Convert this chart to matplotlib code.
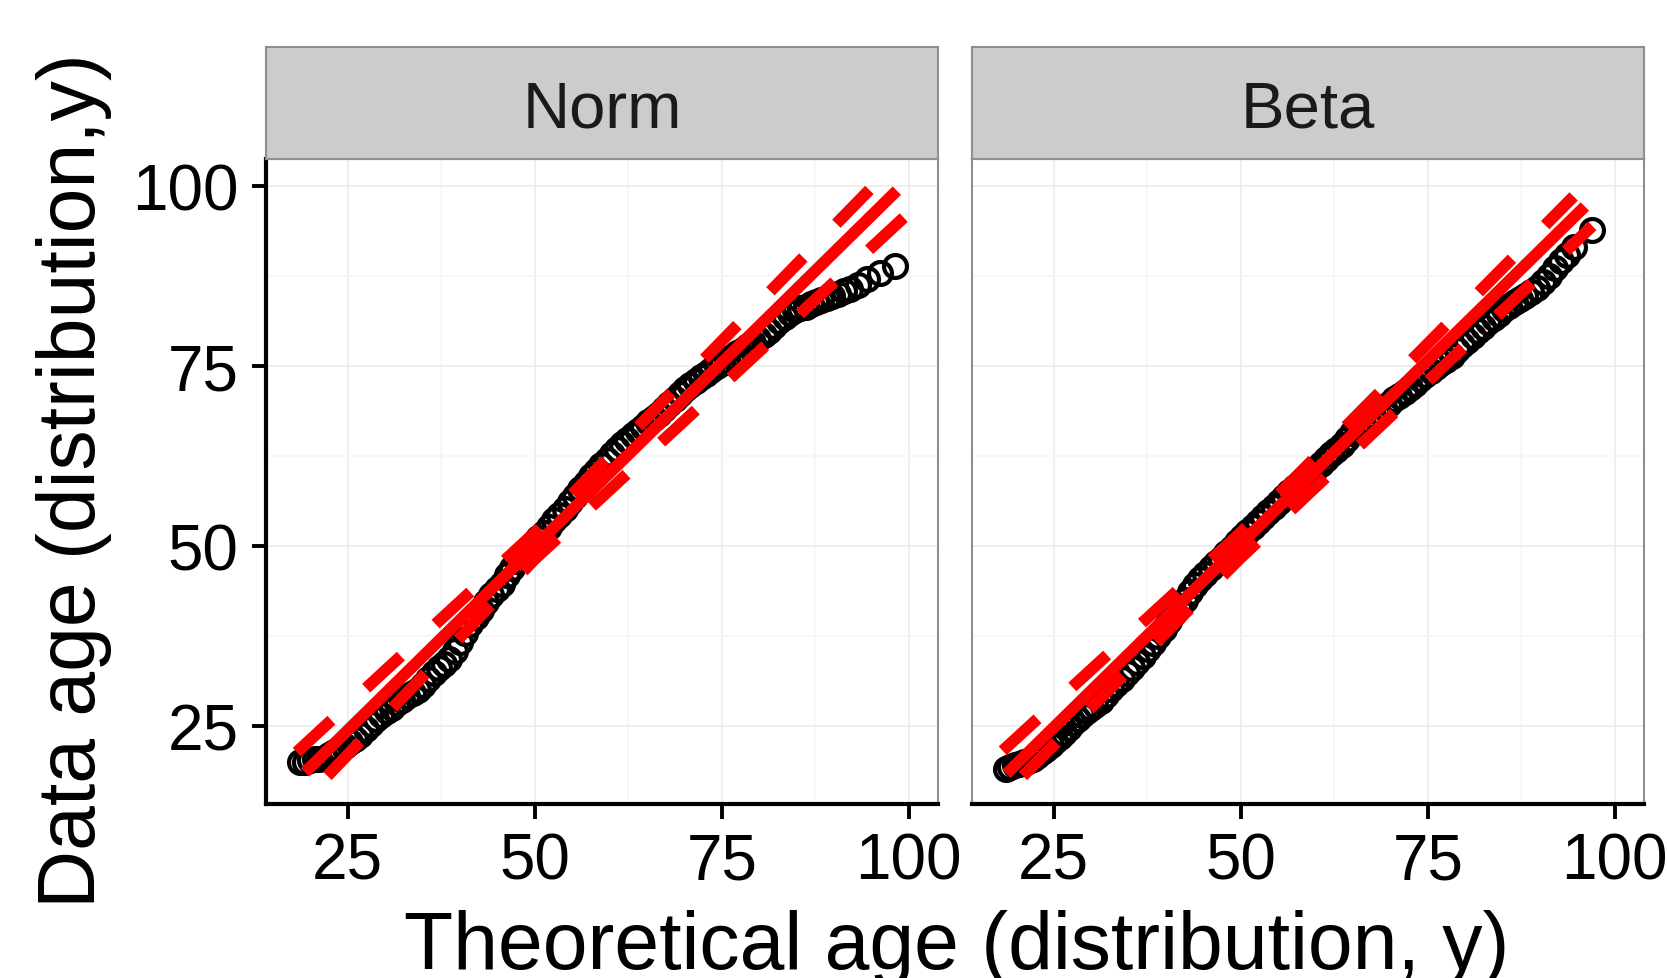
"""QQ plots of age: theoretical vs data, Norm and Beta facets."""

import matplotlib
matplotlib.use("Agg")
import matplotlib.pyplot as plt

plt.rcParams['font.family'] = ['Liberation Sans', 'DejaVu Sans']

PANELS = ["Norm", "Beta"]

NORM_THEO = [18.6, 19.3, 20.0, 20.6, 21.2, 21.8, 22.5, 23.2, 23.9, 24.6, 25.3, 26.0, 26.7, 27.4,
             28.1, 28.8, 29.5, 30.2, 30.9, 31.6, 32.3, 33.0, 33.7, 34.4, 35.1, 35.8, 36.5, 37.2,
             37.9, 38.6, 39.3, 40.0, 40.7, 41.4, 42.1, 42.8, 43.5, 44.2, 44.9, 45.6, 46.3, 47.0,
             47.7, 48.4, 49.1, 49.8, 50.5, 51.2, 51.9, 52.6, 53.3, 54.0, 54.7, 55.4, 56.1, 56.8,
             57.5, 58.2, 58.9, 59.6, 60.3, 61.0, 61.7, 62.4, 63.1, 63.8, 64.5, 65.2, 65.9, 66.6,
             67.3, 68.0, 68.7, 69.4, 70.1, 70.8, 71.5, 72.2, 72.9, 73.6, 74.3, 75.0, 75.7, 76.4,
             77.1, 77.8, 78.5, 79.2, 79.9, 80.6, 81.3, 82.0, 82.7, 83.4, 84.1, 84.8, 85.5, 86.2,
             86.9, 87.6, 88.3, 89.0, 89.7, 90.5, 91.3, 92.2, 93.2, 94.4, 96.2, 98.1]
NORM_DATA = [20.0, 20.1, 20.3, 20.4, 20.5, 20.6, 21.0, 21.4, 21.9, 22.3, 22.8, 23.3, 23.8, 24.6,
             25.3, 26.0, 26.6, 27.1, 27.6, 28.2, 28.7, 29.2, 29.6, 30.1, 30.7, 31.5, 32.4, 33.1,
             33.7, 34.3, 35.4, 36.7, 38.0, 39.2, 40.2, 41.2, 42.3, 43.2, 44.0, 44.8, 46.0, 47.0,
             47.9, 48.7, 49.5, 50.3, 51.1, 51.9, 52.7, 53.6, 54.4, 55.2, 56.1, 57.0, 57.9, 58.8,
             59.7, 60.5, 61.3, 62.0, 62.8, 63.5, 64.2, 64.8, 65.4, 66.0, 66.6, 67.2, 67.8, 68.4,
             69.1, 69.8, 70.5, 71.2, 71.8, 72.4, 73.0, 73.5, 74.0, 74.5, 75.0, 75.4, 75.9, 76.3,
             76.8, 77.3, 77.8, 78.3, 78.8, 79.3, 79.9, 80.6, 81.3, 81.9, 82.4, 82.8, 83.1, 83.3,
             83.6, 83.9, 84.2, 84.5, 84.8, 85.1, 85.4, 85.7, 86.3, 87.1, 88.0, 88.9]

BETA_THEO = [18.6, 19.2, 19.8, 20.4, 21.0, 21.6, 22.2, 22.8, 23.4, 24.0, 24.6, 25.2, 25.8, 26.4,
             27.0, 27.6, 28.2, 28.8, 29.4, 30.0, 30.6, 31.3, 32.0, 32.7, 33.4, 34.1, 34.8, 35.5,
             36.2, 36.9, 37.6, 38.3, 39.0, 39.7, 40.4, 41.1, 41.8, 42.5, 43.2, 43.9, 44.6, 45.3,
             46.0, 46.7, 47.4, 48.1, 48.8, 49.5, 50.2, 50.9, 51.6, 52.3, 53.0, 53.7, 54.4, 55.1,
             55.8, 56.5, 57.2, 57.9, 58.6, 59.3, 60.0, 60.7, 61.4, 62.1, 62.8, 63.5, 64.2, 64.9,
             65.6, 66.3, 67.0, 67.7, 68.4, 69.1, 69.8, 70.5, 71.2, 71.9, 72.6, 73.3, 74.0, 74.7,
             75.4, 76.1, 76.8, 77.5, 78.2, 78.9, 79.6, 80.3, 81.0, 81.7, 82.4, 83.1, 83.8, 84.5,
             85.2, 85.9, 86.6, 87.3, 88.0, 88.8, 89.6, 90.4, 91.2, 92.0, 92.8, 93.6, 94.6, 97.0]
BETA_DATA = [19.0, 19.3, 19.6, 19.8, 20.0, 20.2, 20.5, 20.9, 21.4, 21.9, 22.4, 22.9, 23.5, 24.1,
             24.8, 25.5, 26.0, 26.6, 27.1, 27.5, 28.0, 28.5, 29.3, 30.2, 30.9, 31.6, 32.4, 33.1,
             33.9, 34.8, 35.7, 36.6, 37.5, 38.5, 39.6, 40.7, 41.7, 42.6, 43.6, 44.6, 45.5, 46.2,
             47.0, 47.7, 48.3, 49.0, 49.8, 50.6, 51.3, 52.0, 52.7, 53.4, 54.1, 54.8, 55.5, 56.2,
             56.8, 57.5, 58.2, 58.8, 59.4, 60.0, 60.7, 61.4, 62.1, 62.8, 63.4, 64.1, 64.9, 65.7,
             66.4, 67.0, 67.6, 68.2, 68.7, 69.2, 69.8, 70.4, 70.9, 71.5, 72.0, 72.6, 73.2, 73.8,
             74.4, 74.9, 75.4, 75.9, 76.5, 77.2, 77.9, 78.5, 79.2, 79.9, 80.5, 81.1, 81.7, 82.3,
             82.9, 83.4, 83.9, 84.3, 84.8, 85.3, 85.9, 86.7, 87.6, 88.6, 89.6, 90.5, 91.6, 94.0]

# solid reference line
NORM_LINE_X = [19.3, 98.4]
NORM_LINE_Y = [18.6, 99.4]
BETA_LINE_X = [18.7, 96.0]
BETA_LINE_Y = [18.4, 97.2]
# dashed band lines (upper, lower)
NORM_BAND_X = [[18.2, 50.0, 95.1], [22.3, 50.0, 100.1]]
NORM_BAND_Y = [[21.4, 51.9, 99.9], [18.1, 48.2, 96.4]]
BETA_BAND_X = [[18.2, 50.0, 94.5], [20.9, 50.0, 97.0]]
BETA_BAND_Y = [[21.6, 51.9, 98.6], [18.1, 48.4, 94.5]]

TICKS = [25, 50, 75, 100]
MINOR = [37.5, 62.5, 87.5]

fig = plt.figure(figsize=(16.67, 9.79), dpi=100)

data = [(NORM_THEO, NORM_DATA, NORM_LINE_X, NORM_LINE_Y, NORM_BAND_X, NORM_BAND_Y),
        (BETA_THEO, BETA_DATA, BETA_LINE_X, BETA_LINE_Y, BETA_BAND_X, BETA_BAND_Y)]
lefts = [0.1596, 0.5831]
border = "#8f8f8f"

for i, (name, (tx, dy, cx, cy, bx, by), left) in enumerate(zip(PANELS, data, lefts)):
    ax = fig.add_axes([left, 0.1777, 0.4031, 0.6589])
    ax.plot(tx, dy, "o", mfc="none", mec="black", ms=16.5, mew=3.0, ls="none", zorder=3)
    ax.plot(cx, cy, color="#ff0000", lw=8.5, solid_capstyle="butt", zorder=4)
    for xs, ys in zip(bx, by):
        ax.plot(xs, ys, color="#ff0000", lw=8.5, dashes=(4, 4),
                dash_capstyle="butt", zorder=4)

    ax.set_xlim(14.1, 103.9)
    ax.set_ylim(14.2, 103.8)
    ax.set_xticks(TICKS)
    ax.set_yticks(TICKS)
    ax.set_xticks(MINOR, minor=True)
    ax.set_yticks(MINOR, minor=True)
    ax.grid(which="major", color="#ebebeb", lw=1.1)
    ax.grid(which="minor", color="#f5f5f5", lw=1.1)
    ax.set_axisbelow(True)
    ax.tick_params(which="minor", length=0)
    ax.tick_params(axis="x", length=11, width=2.8, pad=9, labelsize=46, colors="black")
    ax.tick_params(axis="y", length=10, width=2.8, pad=10, labelsize=46, colors="black")

    for side in ["top", "right", "left", "bottom"]:
        ax.spines[side].set_color(border)
        ax.spines[side].set_linewidth(1.5)
    ax.spines["bottom"].set_color("black")
    ax.spines["bottom"].set_linewidth(3)
    if i == 0:
        ax.spines["left"].set_color("black")
        ax.spines["left"].set_linewidth(3)
    else:
        ax.tick_params(axis="y", length=0, labelleft=False)

    # facet strip
    sx = fig.add_axes([left, 0.8366, 0.4031, 0.1144])
    sx.set_facecolor("#cccccc")
    sx.set_xticks([])
    sx.set_yticks([])
    for side in sx.spines:
        sx.spines[side].set_color(border)
        sx.spines[side].set_linewidth(1.5)
    sx.text(0.5, 0.29, name, ha="center", va="baseline", fontsize=47, color="#1a1a1a",
            transform=sx.transAxes)

fig.text(0.0444, 0.5087, "Data age (distribution,y)", rotation=90, ha="center", va="center",
         fontsize=58)
fig.text(0.574, 0.0102, "Theoretical age (distribution, y)", ha="center", va="baseline",
         fontsize=58)

fig.savefig("out.png", dpi=100)
